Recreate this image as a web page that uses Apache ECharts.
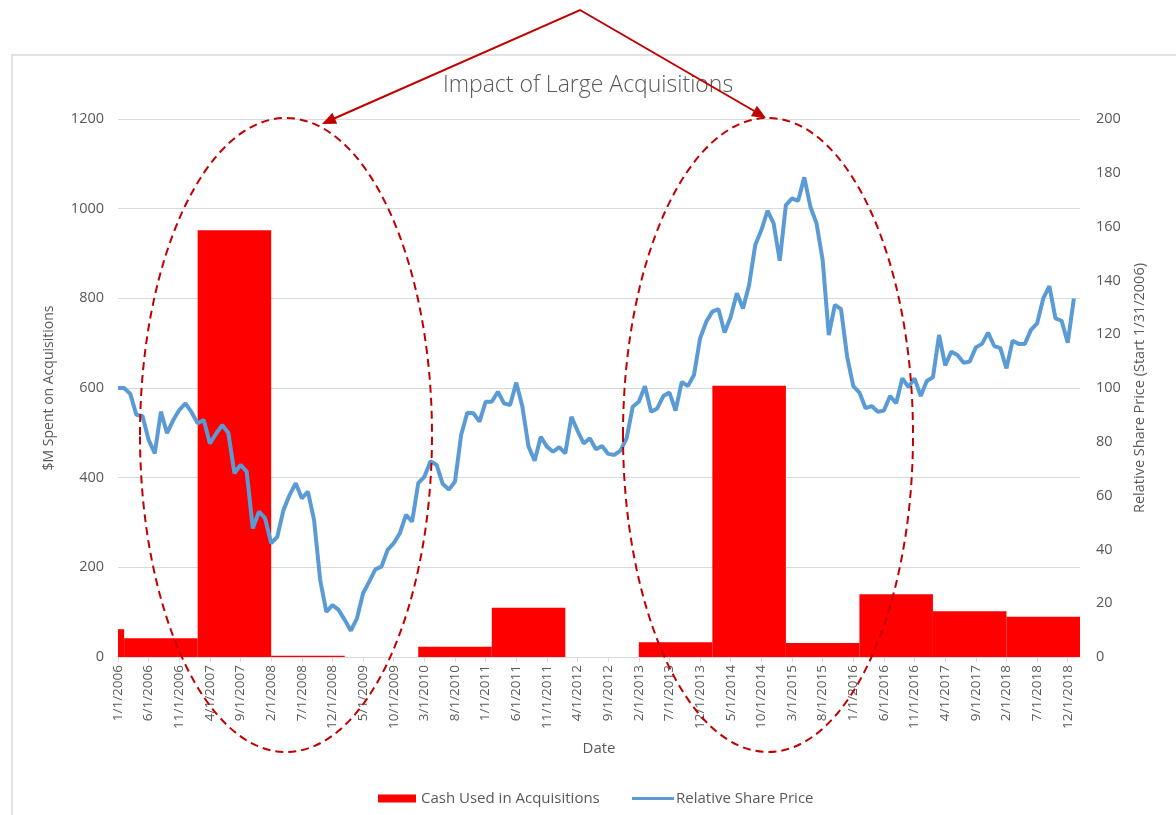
<!DOCTYPE html>
<html>
<head>
<meta charset="utf-8">
<script src="https://cdn.jsdelivr.net/npm/echarts@6/dist/echarts.min.js"></script>
<style>
  html, body { margin: 0; padding: 0; background: #fff; }
  #chart { width: 1176px; height: 815px; }
</style>
</head>
<body>
<div id="chart"></div>
<script>
// monthly categories, 1/1/2006 .. 2/1/2019
const months = [];
for (let y = 2006; y <= 2019; y++) {
  for (let m = 1; m <= 12; m++) {
    if (y === 2019 && m > 2) break;
    months.push(m + '/1/' + y);
  }
}

// relative share price, one value per month (start = 100)
const sharePrice = [
  100, 100, 97.8, 90, 89.6, 80.7, 75.7, 91.2, 83.2, 88, 91.8, 94.3,
  91, 86.9, 88.1, 79.4, 83, 86.2, 83.4, 68.3, 71.4, 68.9, 47.8, 54,
  51.6, 42.3, 44.7, 54.6, 60.2, 64.6, 59, 61.5, 50.9, 28.6, 16.8, 19.3,
  17.5, 13.8, 9.8, 14.4, 23.7, 28, 32.6, 33.6, 39.8, 42.3, 46, 52.8,
  50.3, 64.6, 67, 72.8, 71.4, 64.3, 62.3, 65.2, 82.5, 90.8, 90.6, 87.5,
  94.9, 94.9, 98.6, 94.3, 93.7, 102, 93, 78.2, 73, 81.9, 78.2, 76.3,
  78, 75.7, 89.3, 84.1, 79.4, 81.3, 77.2, 78.4, 75.5, 75.1, 76.7, 81.3,
  93, 94.9, 100.7, 91.2, 92.4, 97, 98.3, 91.6, 102.3, 100.7, 104.8, 118.5,
  124.6, 128.4, 129.3, 120.6, 126.5, 135.2, 129.6, 138.3, 153.2, 158.7, 165.9, 161.2,
  147.3, 168, 170.5, 169.6, 178.3, 167.4, 161.2, 147.6, 119.7, 130.9, 129.3, 111.6,
  100.7, 98.3, 92.5, 93.3, 91.2, 91.6, 97, 94.3, 103.6, 100.3, 103.6, 97,
  102.6, 104, 119.7, 108.4, 113.5, 112.3, 109.4, 109.8, 115.1, 116.4, 120.6, 115.6,
  114.8, 107.3, 117.6, 116.4, 116.4, 121.6, 124, 133.3, 137.9, 125.9, 125, 116.8,
  133.3
];

// cash used in acquisitions ($M), per fiscal period (start month -> end month)
const cashStart = ['1/1/2006', '2/1/2006', '2/1/2007', '2/1/2008', '2/1/2009', '2/1/2010', '2/1/2011',
  '2/1/2012', '2/1/2013', '2/1/2014', '2/1/2015', '2/1/2016', '2/1/2017', '2/1/2018'];
const cashEnd = ['2/1/2006', '2/1/2007', '2/1/2008', '2/1/2009', '2/1/2010', '2/1/2011', '2/1/2012',
  '2/1/2013', '2/1/2014', '2/1/2015', '2/1/2016', '2/1/2017', '2/1/2018', '2/1/2019'];
const cashValues = [62, 42, 952, 3, 0, 23, 110, 0, 33, 605, 31, 140, 102, 90];

const leftTicks = { min: 0, max: 1200, interval: 200 };
const rightTicks = { min: 0, max: 200, interval: 20 };

const cashData = cashValues.map((v, i) => [cashStart[i], cashEnd[i], v]);

const grey = '#595959';
const font = 'Open Sans';
const red = '#C00000';
const blue = '#5B9BD5';

const chart = echarts.init(document.getElementById('chart'));
chart.setOption({
  backgroundColor: '#fff',
  animation: false,
  textStyle: { fontFamily: font },
  title: {
    text: 'Impact of Large Acquisitions',
    left: 'center',
    top: 69,
    textStyle: { color: grey, fontSize: 23, fontWeight: 300, fontFamily: font }
  },
  legend: [
    {
      top: 786,
      left: 373,
      itemWidth: 38,
      itemHeight: 8,
      textStyle: { color: grey, fontSize: 15 },
      data: [{ name: 'Cash Used in Acquisitions', icon: 'rect' }]
    },
    {
      top: 786,
      left: 627,
      itemWidth: 42,
      itemHeight: 3,
      textStyle: { color: grey, fontSize: 15, padding: [0, 0, 0, -3] },
      data: [{ name: 'Relative Share Price', icon: 'rect' }]
    }
  ],
  grid: { left: 118, right: 96, top: 119, bottom: 158 },
  xAxis: {
    type: 'category',
    data: months,
    boundaryGap: false,
    name: 'Date',
    nameLocation: 'middle',
    nameGap: 84,
    nameTextStyle: { color: grey, fontSize: 15 },
    axisLine: { lineStyle: { color: '#D9D9D9' } },
    axisTick: { interval: 4, length: 5, lineStyle: { color: '#D9D9D9' } },
    axisLabel: { interval: 4, rotate: 90, color: grey, fontSize: 13.5, margin: 8 },
    splitLine: { show: false }
  },
  yAxis: [
    {
      type: 'value',
      min: leftTicks.min, max: leftTicks.max, interval: leftTicks.interval,
      name: '$M Spent on Acquisitions',
      nameLocation: 'middle',
      nameGap: 62,
      nameTextStyle: { color: grey, fontSize: 14 },
      axisLine: { show: false },
      axisTick: { show: false },
      axisLabel: { color: grey, fontSize: 14.5, margin: 14, formatter: v => String(v) },
      splitLine: { lineStyle: { color: '#D9D9D9' } }
    },
    {
      type: 'value',
      min: rightTicks.min, max: rightTicks.max, interval: rightTicks.interval,
      name: 'Relative Share Price (Start 1/31/2006)',
      nameLocation: 'middle',
      nameGap: 52,
      nameRotate: 90,
      nameTextStyle: { color: grey, fontSize: 14.5 },
      axisLine: { show: false },
      axisTick: { show: false },
      axisLabel: { color: grey, fontSize: 14.5, margin: 16 },
      splitLine: { show: false }
    }
  ],
  series: [
    {
      name: 'Cash Used in Acquisitions',
      type: 'custom',
      yAxisIndex: 0,
      itemStyle: { color: '#FF0000' },
      encode: { x: [0, 1], y: 2 },
      data: cashData,
      renderItem: function (params, api) {
        const p0 = api.coord([api.value(0), api.value(2)]);
        const p1 = api.coord([api.value(1), 0]);
        return {
          type: 'rect',
          shape: { x: p0[0], y: p0[1], width: p1[0] - p0[0], height: p1[1] - p0[1] },
          style: { fill: '#FF0000' }
        };
      },
      z: 2
    },
    {
      name: 'Relative Share Price',
      type: 'line',
      yAxisIndex: 1,
      data: sharePrice,
      symbol: 'none',
      lineStyle: { color: blue, width: 4 },
      itemStyle: { color: blue },
      z: 3
    }
  ],
  graphic: [
    { type: 'rect', shape: { x: 12, y: 55, width: 1200, height: 800 },
      style: { fill: 'none', stroke: '#D9D9D9', lineWidth: 1.5 }, z: -10, silent: true },
    { type: 'ellipse', shape: { cx: 286, cy: 435, rx: 146, ry: 317 },
      style: { fill: 'none', stroke: red, lineWidth: 2, lineDash: [8, 5] }, z: 100 },
    { type: 'ellipse', shape: { cx: 768, cy: 435, rx: 145, ry: 317 },
      style: { fill: 'none', stroke: red, lineWidth: 2, lineDash: [8, 5] }, z: 100 },
    { type: 'polyline', shape: { points: [[333, 119], [580, 10], [756, 112]] },
      style: { stroke: red, lineWidth: 2, fill: 'none' }, z: 100 },
    { type: 'polygon', shape: { points: [[322, 124], [337.2, 123.8], [332.4, 112.8]] },
      style: { fill: red }, z: 100 },
    { type: 'polygon', shape: { points: [[766, 118], [750.9, 116.2], [756.9, 105.8]] },
      style: { fill: red }, z: 100 }
  ]
});
</script>
</body>
</html>
